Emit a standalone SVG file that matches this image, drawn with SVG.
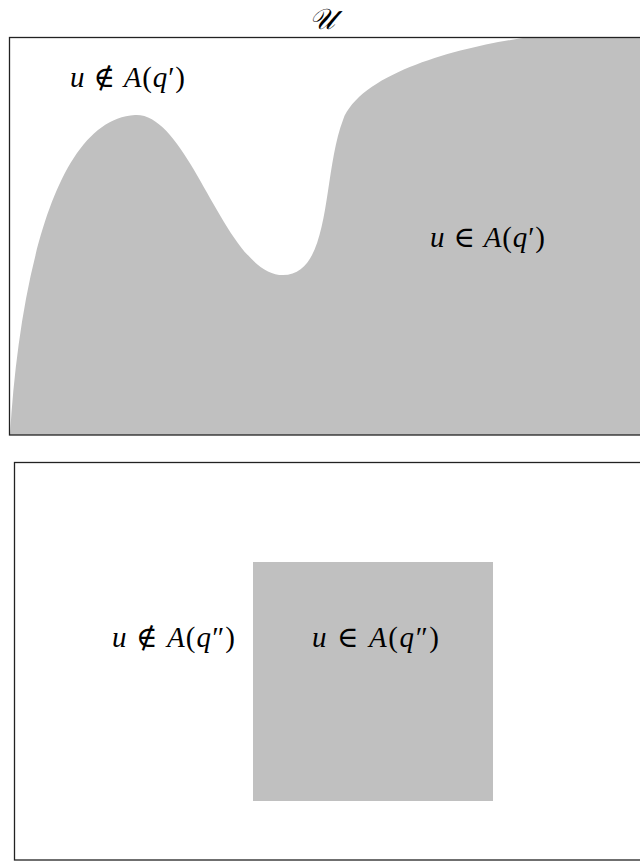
<svg xmlns="http://www.w3.org/2000/svg" width="640" height="861" viewBox="0 0 640 861">
<style>
.box{fill:none;stroke:#222;stroke-width:1.3}
.reg{fill:#c0c0c0;stroke:none}
.m{font-family:"Liberation Serif","DejaVu Serif",serif;font-size:29px;fill:#000}
.i{font-style:italic}
</style>
<rect width="640" height="861" fill="#fff"/>
<g id="top-panel">
<path class="reg" d="M10,435 C 18,300 50,120 135,115 C 190,112 225,275 283,275 C 332,275 322,175 343,120 C 362,70 470,45 530,37 L 640,37 L 640,435 Z"/>
<rect class="box" x="9.5" y="37.5" width="640" height="397.5"/>
<text class="m" x="70" y="87" textLength="115" lengthAdjust="spacing"><tspan class="i">u</tspan> ∉ <tspan class="i">A</tspan>(<tspan class="i">q</tspan>′)</text>
<text class="m" x="430" y="247" textLength="115" lengthAdjust="spacing"><tspan class="i">u</tspan> ∈ <tspan class="i">A</tspan>(<tspan class="i">q</tspan>′)</text>
<text class="m i" x="309" y="29" font-size="38">𝒰</text>
</g>
<g id="bottom-panel">
<rect class="reg" x="253" y="562" width="240" height="239"/>
<rect class="box" x="14.5" y="462.5" width="640" height="397.5"/>
<text class="m" x="112" y="647" textLength="123" lengthAdjust="spacing"><tspan class="i">u</tspan> ∉ <tspan class="i">A</tspan>(<tspan class="i">q</tspan>″)</text>
<text class="m" x="312" y="647" textLength="127" lengthAdjust="spacing"><tspan class="i">u</tspan> ∈ <tspan class="i">A</tspan>(<tspan class="i">q</tspan>″)</text>
</g>
</svg>
